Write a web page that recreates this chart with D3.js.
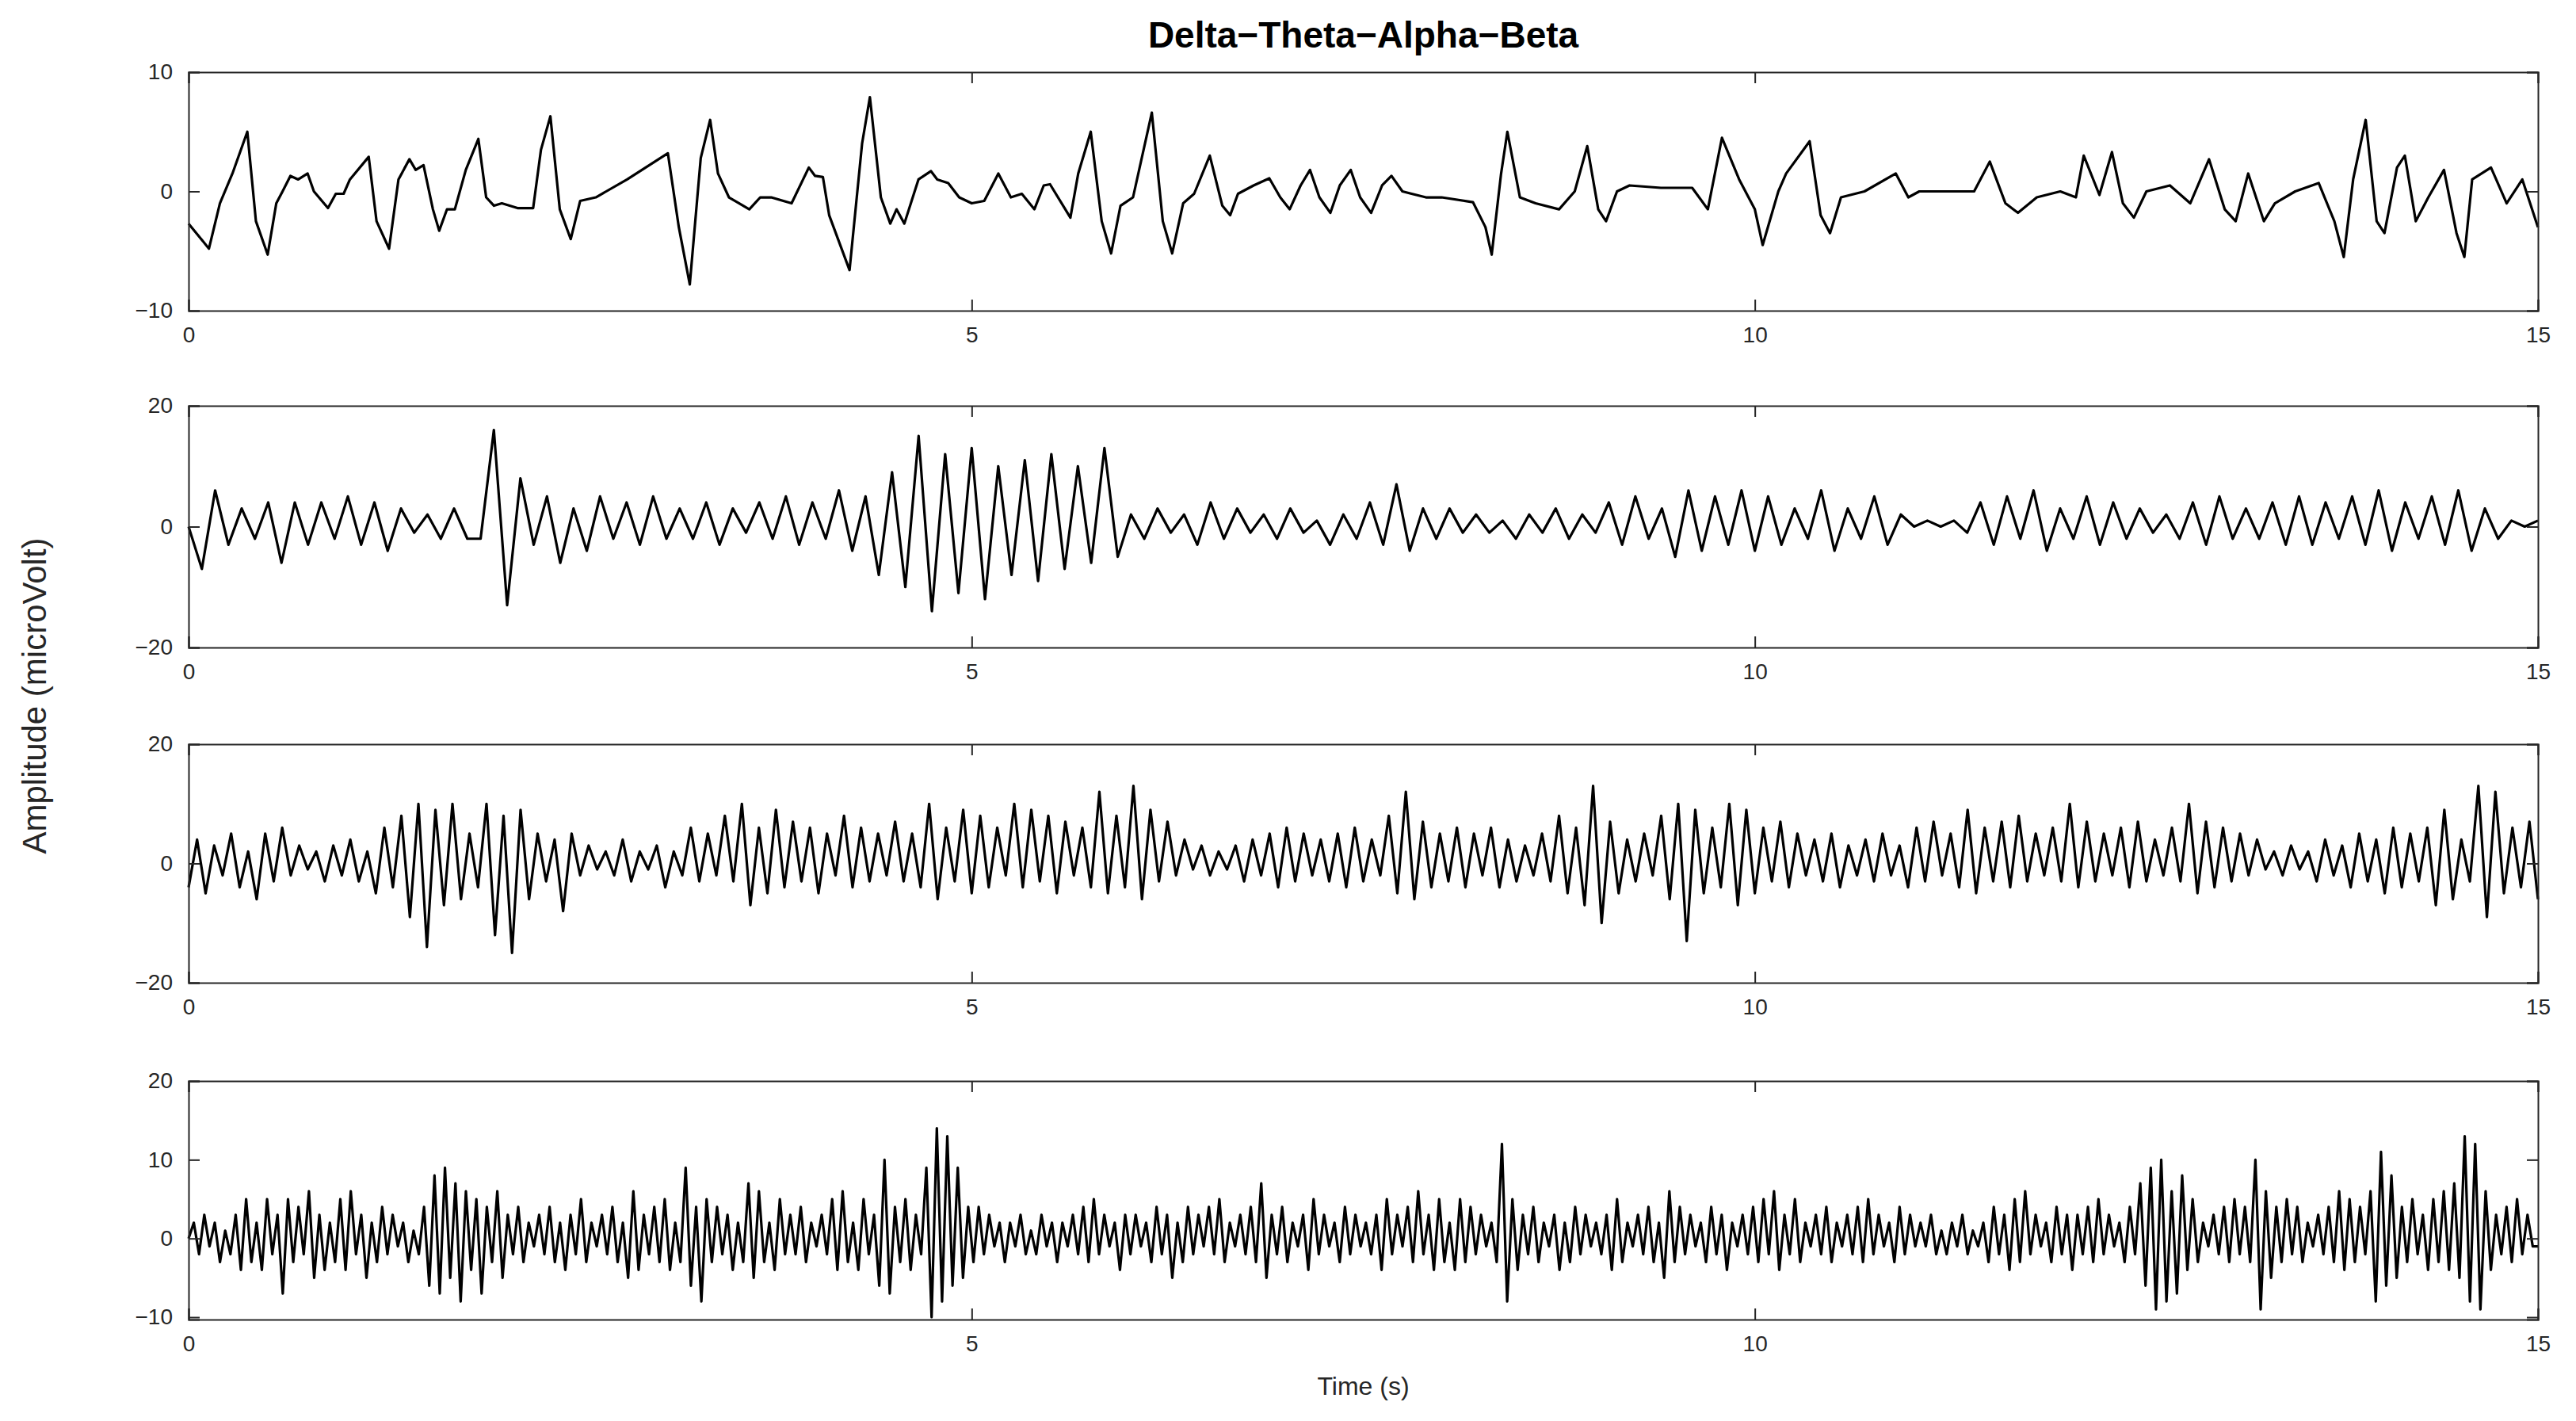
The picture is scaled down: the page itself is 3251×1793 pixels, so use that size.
<!DOCTYPE html><html><head><meta charset="utf-8">
<script src="https://d3js.org/d3.v7.min.js"></script>
<style>body{margin:0;background:#fff}svg{font-family:Arial,"Liberation Sans",sans-serif}</style></head><body>
<script>
const title = "Delta\u2212Theta\u2212Alpha\u2212Beta";
const xTicks = [0,5,10,15];
const delta = [[0,-2.7],[0.13,-4.8],[0.2,-1],[0.28,1.5],[0.375,5],[0.43,-2.5],[0.505,-5.3],[0.56,-1],[0.6,0],[0.65,1.3],[0.7,1],[0.76,1.5],[0.8,0],[0.89,-1.4],[0.94,-0.2],[0.99,-0.2],[1.03,1],[1.15,2.9],[1.2,-2.5],[1.28,-4.8],[1.34,1],[1.41,2.7],[1.45,1.8],[1.5,2.2],[1.56,-1.5],[1.6,-3.3],[1.65,-1.5],[1.7,-1.5],[1.77,1.8],[1.85,4.4],[1.9,-0.5],[1.95,-1.2],[2.0,-1],[2.1,-1.4],[2.2,-1.4],[2.25,3.5],[2.31,6.3],[2.37,-1.5],[2.44,-4],[2.5,-0.8],[2.6,-0.5],[2.8,1],[3.06,3.2],[3.13,-3],[3.2,-7.8],[3.27,2.8],[3.33,6],[3.38,1.5],[3.45,-0.5],[3.58,-1.5],[3.65,-0.5],[3.72,-0.5],[3.85,-1],[3.96,2],[4.0,1.3],[4.05,1.2],[4.09,-2],[4.22,-6.6],[4.3,4],[4.35,7.9],[4.42,-0.5],[4.48,-2.7],[4.52,-1.5],[4.57,-2.7],[4.66,1],[4.74,1.7],[4.78,1],[4.85,0.7],[4.92,-0.5],[5.0,-1],[5.08,-0.8],[5.17,1.5],[5.25,-0.5],[5.32,-0.2],[5.4,-1.5],[5.46,0.5],[5.5,0.6],[5.63,-2.2],[5.68,1.5],[5.76,5],[5.83,-2.5],[5.89,-5.2],[5.95,-1.2],[6.03,-0.5],[6.15,6.6],[6.22,-2.5],[6.28,-5.2],[6.35,-1],[6.42,-0.2],[6.52,3],[6.6,-1.2],[6.65,-2],[6.7,-0.2],[6.8,0.5],[6.9,1.1],[6.97,-0.5],[7.03,-1.5],[7.1,0.5],[7.16,1.8],[7.22,-0.5],[7.29,-1.8],[7.35,0.5],[7.42,1.8],[7.48,-0.5],[7.55,-1.8],[7.62,0.5],[7.68,1.3],[7.75,0],[7.9,-0.5],[8.0,-0.5],[8.2,-0.9],[8.28,-3],[8.32,-5.3],[8.38,1.5],[8.42,5],[8.5,-0.5],[8.6,-1],[8.75,-1.5],[8.85,0],[8.93,3.8],[9.0,-1.5],[9.05,-2.5],[9.12,0],[9.2,0.5],[9.4,0.3],[9.6,0.3],[9.7,-1.5],[9.79,4.5],[9.9,1],[10.0,-1.5],[10.05,-4.5],[10.15,0],[10.2,1.5],[10.35,4.2],[10.42,-2],[10.48,-3.5],[10.55,-0.5],[10.7,0],[10.9,1.5],[10.98,-0.5],[11.05,0],[11.2,0],[11.4,0],[11.5,2.5],[11.6,-1],[11.68,-1.8],[11.8,-0.5],[11.95,0],[12.05,-0.5],[12.1,3],[12.2,-0.3],[12.28,3.3],[12.35,-1],[12.42,-2.2],[12.5,0],[12.65,0.5],[12.78,-1],[12.9,2.7],[13.0,-1.5],[13.07,-2.5],[13.15,1.5],[13.25,-2.5],[13.32,-1],[13.45,0],[13.6,0.7],[13.7,-2.5],[13.76,-5.5],[13.82,1],[13.9,6],[13.97,-2.5],[14.02,-3.5],[14.1,2],[14.15,3],[14.22,-2.5],[14.3,-0.5],[14.4,1.8],[14.48,-3.5],[14.53,-5.5],[14.58,1],[14.7,2],[14.8,-1],[14.9,1],[15.0,-3]];
const theta = [0,-7,6,-3,3,-2,4,-6,4,-3,4,-2,5,-3,4,-4,3,-1,2,-2,3,-2,
-2,16,-13,8,-3,5,-6,3,
-4,5,-2,4,-3,5,-2,3,-2,4,-3,3,-1,4,-2,5,-3,4,-2,6,-4,5,
-8,9,-10,15,-14,12,-11,13,-12,10,-8,11,-9,12,-7,10,-6,13,-5,2,
-2,3,-1,2,-3,4,-2,3,-1,2,-2,3,-1,1,-3,2,-2,4,-3,7,-4,3,-2,3,-1,2,-1,1,-2,2,-1,3,-2,2,-1,4,-3,5,-2,3,-5,6,-4,5,-3,6,-4,5,-3,3,-2,6,-4,3,-2,5,-3,2,0,1,0,1,-1,4,-3,5,-2,6,-4,3,-2,5,-3,4,-2,3,-1,2,-2,4,-3,5,-2,3,-2,4,-3,5,-3,4,-2,5,-3,6,-4,4,-2,5,-3,6,-4,3,-2,1,0,1];
const alpha = [-4,4,-5,3,-2,5,-4,2,-6,5,-3,6,-2,3,-1,2,-3,3,-2,4,-3,2,-5,6,-4,8,-9,10,-14,9,-7,10,-6,5,-4,10,-12,8,-15,9,-6,5,-3,4,-8,5,-2,3,-1,2,-2,4,-3,2,-1,3,-4,2,-2,6,-3,5,-2,8,-3,10,-7,6,-5,9,-4,7,-3,6,-5,5,-2,8,-4,6,-3,5,-2,7,-3,5,-4,10,-6,6,-3,9,-5,8,-4,6,-2,10,-4,9,-3,8,-5,7,-2,6,-4,12,-5,8,-4,13,-6,9,-3,7,-2,4,-1,3,-2,2,-1,3,-3,4,-2,5,-4,6,-3,5,-2,4,-3,5,-4,6,-3,4,-2,8,-5,12,-6,7,-4,5,-3,6,-4,5,-2,6,-4,4,-3,3,-2,5,-3,8,-5,6,-7,13,-10,7,-5,4,-3,5,-2,8,-6,10,-13,9,-5,6,-4,10,-7,9,-5,6,-3,7,-4,5,-2,4,-3,5,-4,3,-2,4,-3,5,-2,3,-4,6,-3,7,-2,5,-4,9,-5,6,-3,7,-4,8,-3,5,-2,6,-3,10,-4,7,-3,5,-2,6,-4,7,-3,4,-2,6,-3,10,-5,7,-4,6,-3,5,-2,4,-1,2,-2,3,-1,2,-3,4,-2,3,-4,5,-3,4,-5,6,-4,5,-3,6,-7,9,-6,4,-3,13,-9,12,-5,6,-4,7,-6];
const beta = [
 0,2,-2,3,-1,2,-3,1,-2,3,-4,5,-3,2,-4,5,-2,3,-7,5,-3,4,-2,6,-5,3,-4,2,-3,5,
 -4,6,-2,3,-5,2,-3,4,-2,3,-1,2,-3,1,-2,4,-6,8,-7,9,-5,7,-8,6,-4,5,-7,4,-3,6,
 -5,3,-2,4,-3,2,-1,3,-2,4,-3,2,-4,3,-2,5,-3,2,-1,3,-2,4,-3,2,-5,6,-4,3,-2,4,
 -3,5,-4,2,-3,9,-6,4,-8,5,-3,4,-2,3,-4,2,-3,7,-5,6,-3,2,-4,5,-2,3,-2,4,-3,2,
 -1,3,-2,5,-4,6,-3,2,-4,5,-2,3,-6,10,-7,4,-3,5,-4,3,-2,9,-10,14,-8,13,-6,9,-5,4,
 -3,4,-2,3,-1,2,-3,2,-1,3,-2,1,-2,3,-1,2,-3,2,-1,3,-2,4,-3,5,-2,3,-1,2,-4,3,
 -2,3,-1,2,-3,4,-2,3,-5,2,-3,4,-2,3,-1,4,-2,5,-3,2,-1,3,-2,4,-3,7,-5,3,-2,4,
 -3,2,-1,3,-4,5,-2,3,-1,2,-3,4,-2,3,-1,2,-2,3,-4,5,-2,3,-1,4,-3,6,-2,3,-4,5,
 -3,2,-4,5,-3,4,-2,3,-1,2,-3,12,-8,5,-4,3,-2,4,-3,2,-1,3,-4,2,-3,4,-2,3,-1,2,
 -2,3,-4,5,-3,2,-1,3,-2,4,-3,2,-5,6,-3,4,-2,3,-1,2,-3,4,-2,3,-4,2,-1,3,-2,4,
 -3,5,-2,6,-4,3,-2,5,-3,2,-1,3,-2,4,-3,2,-1,3,-2,4,-3,5,-2,3,-1,2,-3,4,-2,3,
 -1,2,-1,3,-2,1,-2,2,-1,3,-2,1,-1,2,-3,4,-2,3,-4,5,-3,6,-2,3,-1,2,-3,4,-2,3,
 -4,3,-2,4,-3,5,-2,3,-1,2,-3,4,-2,7,-6,9,-9,10,-8,6,-7,8,-4,5,-3,2,-1,3,-2,4,
 -3,5,-2,4,-3,10,-9,6,-5,4,-3,5,-2,4,-3,2,-1,3,-2,4,-3,6,-4,5,-3,4,-2,6,-8,11,
 -6,8,-5,4,-3,5,-2,3,-4,5,-3,6,-4,7,-5,13,-8,12,-9,6,-4,3,-2,4,-3,5,-2,3,-1,-1];

const W=3251,H=1793, L=238, R=3203;
const panels=[
 {data:delta.map(d=>({t:d[0],v:d[1]})), top:91, bot:392, dom:[-10,10], ticks:[-10,0,10]},
 {data:theta.map((v,i)=>({t:i*15/(theta.length-1),v})), top:512, bot:817, dom:[-20,20], ticks:[-20,0,20]},
 {data:alpha.map((v,i)=>({t:i*15/(alpha.length-1),v})), top:939, bot:1240, dom:[-20,20], ticks:[-20,0,20]},
 {data:beta.map((v,i)=>({t:i*15/(beta.length-1),v})), top:1364, bot:1665, dom:[-10.3,20], ticks:[-10,0,10,20]}
];
const svg=d3.select("body").append("svg").attr("width",W).attr("height",H);
const x=d3.scaleLinear().domain([0,15]).range([L,R]);
const axCol="#262626", boxCol="#262626";
panels.forEach(p=>{
  const y=d3.scaleLinear().domain(p.dom).range([p.bot,p.top]);
  const g=svg.append("g");
  g.append("rect").attr("x",L).attr("y",p.top).attr("width",R-L).attr("height",p.bot-p.top).attr("fill","#fff");
  g.append("path").datum(p.data).attr("fill","none").attr("stroke","#000").attr("stroke-width",3.2)
   .attr("stroke-linejoin","round").attr("d",d3.line().x(d=>x(d.t)).y(d=>y(d.v)));
  const xa=g.append("g").attr("transform",`translate(0,${p.bot})`).call(d3.axisBottom(x).tickValues(xTicks).tickSize(-14).tickPadding(20).tickFormat(d3.format("d")));
  const xt=g.append("g").attr("transform",`translate(0,${p.top})`).call(d3.axisTop(x).tickValues(xTicks).tickSize(-14).tickFormat(""));
  const ya=g.append("g").attr("transform",`translate(${L},0)`).call(d3.axisLeft(y).tickValues(p.ticks).tickSize(-14).tickPadding(20).tickFormat(d3.format("d")));
  const yr=g.append("g").attr("transform",`translate(${R},0)`).call(d3.axisRight(y).tickValues(p.ticks).tickSize(-14).tickFormat(""));
  [xa,xt,ya,yr].forEach(a=>{a.selectAll("path").attr("stroke",boxCol).attr("stroke-width",2);a.selectAll("line").attr("stroke",boxCol).attr("stroke-width",2);
    a.selectAll("text").attr("font-size",28).attr("fill",axCol).attr("font-family","Arial, Liberation Sans, sans-serif");});
});
svg.append("text").attr("x",(L+R)/2).attr("y",60).attr("text-anchor","middle").attr("font-size",46).attr("font-weight","bold").attr("fill","#000").text(title);
svg.append("text").attr("x",(L+R)/2).attr("y",1760).attr("text-anchor","middle").attr("font-size",32).attr("fill",axCol).text("Time (s)");
svg.append("text").attr("transform","translate(58,878) rotate(-90)").attr("text-anchor","middle").attr("font-size",42).attr("fill",axCol).text("Amplitude (microVolt)");
</script></body></html>
